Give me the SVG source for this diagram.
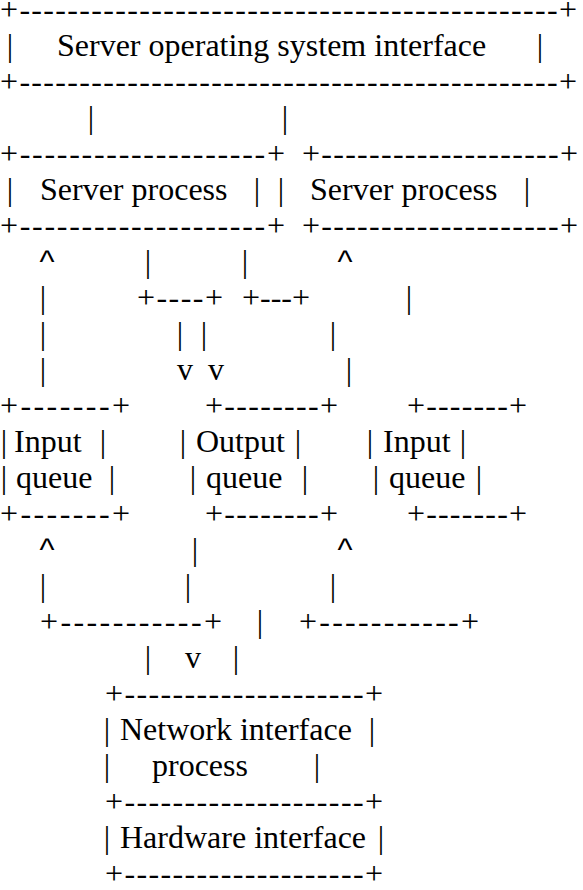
<svg xmlns="http://www.w3.org/2000/svg" width="583" height="890" viewBox="0 0 583 890">
  <style>
    text { font-family: "Liberation Serif", "Times New Roman", serif; font-size: 32px; fill: #000; }
    .m { text-anchor: middle; }
    .caret { font-family: "Liberation Sans", Arial, sans-serif; }
  </style>
  <rect width="583" height="890" fill="#fff"/>

  <!-- Boxes: drawn with ASCII rules, rows are 36px apart -->
  <g id="os-interface">
    <text x="0" y="20" textLength="577" lengthAdjust="spacing">+---------------------------------------------+</text>
    <text class="m" x="10" y="56">|</text>
    <text x="57" y="56">Server operating system interface</text>
    <text class="m" x="540" y="56">|</text>
    <text x="0" y="92" textLength="577" lengthAdjust="spacing">+---------------------------------------------+</text>
  </g>

  <g id="server-process-1">
    <text x="0" y="164" textLength="285" lengthAdjust="spacing">+--------------------+</text>
    <text class="m" x="10" y="200">|</text>
    <text x="40" y="200">Server process</text>
    <text class="m" x="257" y="200">|</text>
    <text x="0" y="236" textLength="285" lengthAdjust="spacing">+--------------------+</text>
  </g>

  <g id="server-process-2">
    <text x="302" y="164" textLength="276" lengthAdjust="spacing">+--------------------+</text>
    <text class="m" x="281" y="200">|</text>
    <text x="310" y="200">Server process</text>
    <text class="m" x="527" y="200">|</text>
    <text x="302" y="236" textLength="276" lengthAdjust="spacing">+--------------------+</text>
  </g>

  <g id="input-queue-1">
    <text x="0" y="416" textLength="130" lengthAdjust="spacing">+-------+</text>
    <text class="m" x="4" y="452">|</text>
    <text x="14" y="452">Input</text>
    <text class="m" x="103" y="452">|</text>
    <text class="m" x="4" y="488">|</text>
    <text x="16" y="488">queue</text>
    <text class="m" x="112" y="488">|</text>
    <text x="0" y="524" textLength="130" lengthAdjust="spacing">+-------+</text>
  </g>

  <g id="output-queue">
    <text x="205" y="416" textLength="133" lengthAdjust="spacing">+--------+</text>
    <text class="m" x="183" y="452">|</text>
    <text x="196" y="452">Output</text>
    <text class="m" x="298" y="452">|</text>
    <text class="m" x="193" y="488">|</text>
    <text x="206" y="488">queue</text>
    <text class="m" x="305" y="488">|</text>
    <text x="205" y="524" textLength="133" lengthAdjust="spacing">+--------+</text>
  </g>

  <g id="input-queue-2">
    <text x="407" y="416" textLength="120" lengthAdjust="spacing">+-------+</text>
    <text class="m" x="370" y="452">|</text>
    <text x="383" y="452">Input</text>
    <text class="m" x="463" y="452">|</text>
    <text class="m" x="376" y="488">|</text>
    <text x="389" y="488">queue</text>
    <text class="m" x="479" y="488">|</text>
    <text x="407" y="524" textLength="120" lengthAdjust="spacing">+-------+</text>
  </g>

  <g id="network-interface-process">
    <text x="105" y="704" textLength="278" lengthAdjust="spacing">+--------------------+</text>
    <text class="m" x="107" y="740">|</text>
    <text x="120" y="740">Network interface</text>
    <text class="m" x="372" y="740">|</text>
    <text class="m" x="107" y="776">|</text>
    <text x="152" y="776">process</text>
    <text class="m" x="317" y="776">|</text>
    <text x="105" y="812" textLength="278" lengthAdjust="spacing">+--------------------+</text>
  </g>

  <g id="hardware-interface">
    <text class="m" x="107" y="848">|</text>
    <text x="120" y="848">Hardware interface</text>
    <text class="m" x="381" y="848">|</text>
    <text x="105" y="884" textLength="278" lengthAdjust="spacing">+--------------------+</text>
  </g>

  <!-- Connectors between the boxes -->
  <g id="connectors">
    <text class="m" x="91" y="128">|</text>
    <text class="m" x="285" y="128">|</text>

    <text class="m caret" x="47" y="272">^</text>
    <text class="m" x="148" y="272">|</text>
    <text class="m" x="245" y="272">|</text>
    <text class="m caret" x="345" y="272">^</text>

    <text class="m" x="43" y="308">|</text>
    <text x="137" y="308" textLength="86" lengthAdjust="spacing">+----+</text>
    <text x="242" y="308" textLength="68" lengthAdjust="spacing">+---+</text>
    <text class="m" x="409" y="308">|</text>

    <text class="m" x="43" y="344">|</text>
    <text class="m" x="180" y="344">|</text>
    <text class="m" x="204" y="344">|</text>
    <text class="m" x="333" y="344">|</text>

    <text class="m" x="43" y="380">|</text>
    <text class="m" x="185" y="380">v</text>
    <text class="m" x="216" y="380">v</text>
    <text class="m" x="349" y="380">|</text>

    <text class="m caret" x="47" y="560">^</text>
    <text class="m" x="195" y="560">|</text>
    <text class="m caret" x="345" y="560">^</text>

    <text class="m" x="43" y="596">|</text>
    <text class="m" x="188" y="596">|</text>
    <text class="m" x="333" y="596">|</text>

    <text x="40" y="632" textLength="182" lengthAdjust="spacing">+-----------+</text>
    <text class="m" x="260" y="632">|</text>
    <text x="299" y="632" textLength="180" lengthAdjust="spacing">+-----------+</text>

    <text class="m" x="148" y="668">|</text>
    <text class="m" x="193" y="668">v</text>
    <text class="m" x="236" y="668">|</text>
  </g>
</svg>
